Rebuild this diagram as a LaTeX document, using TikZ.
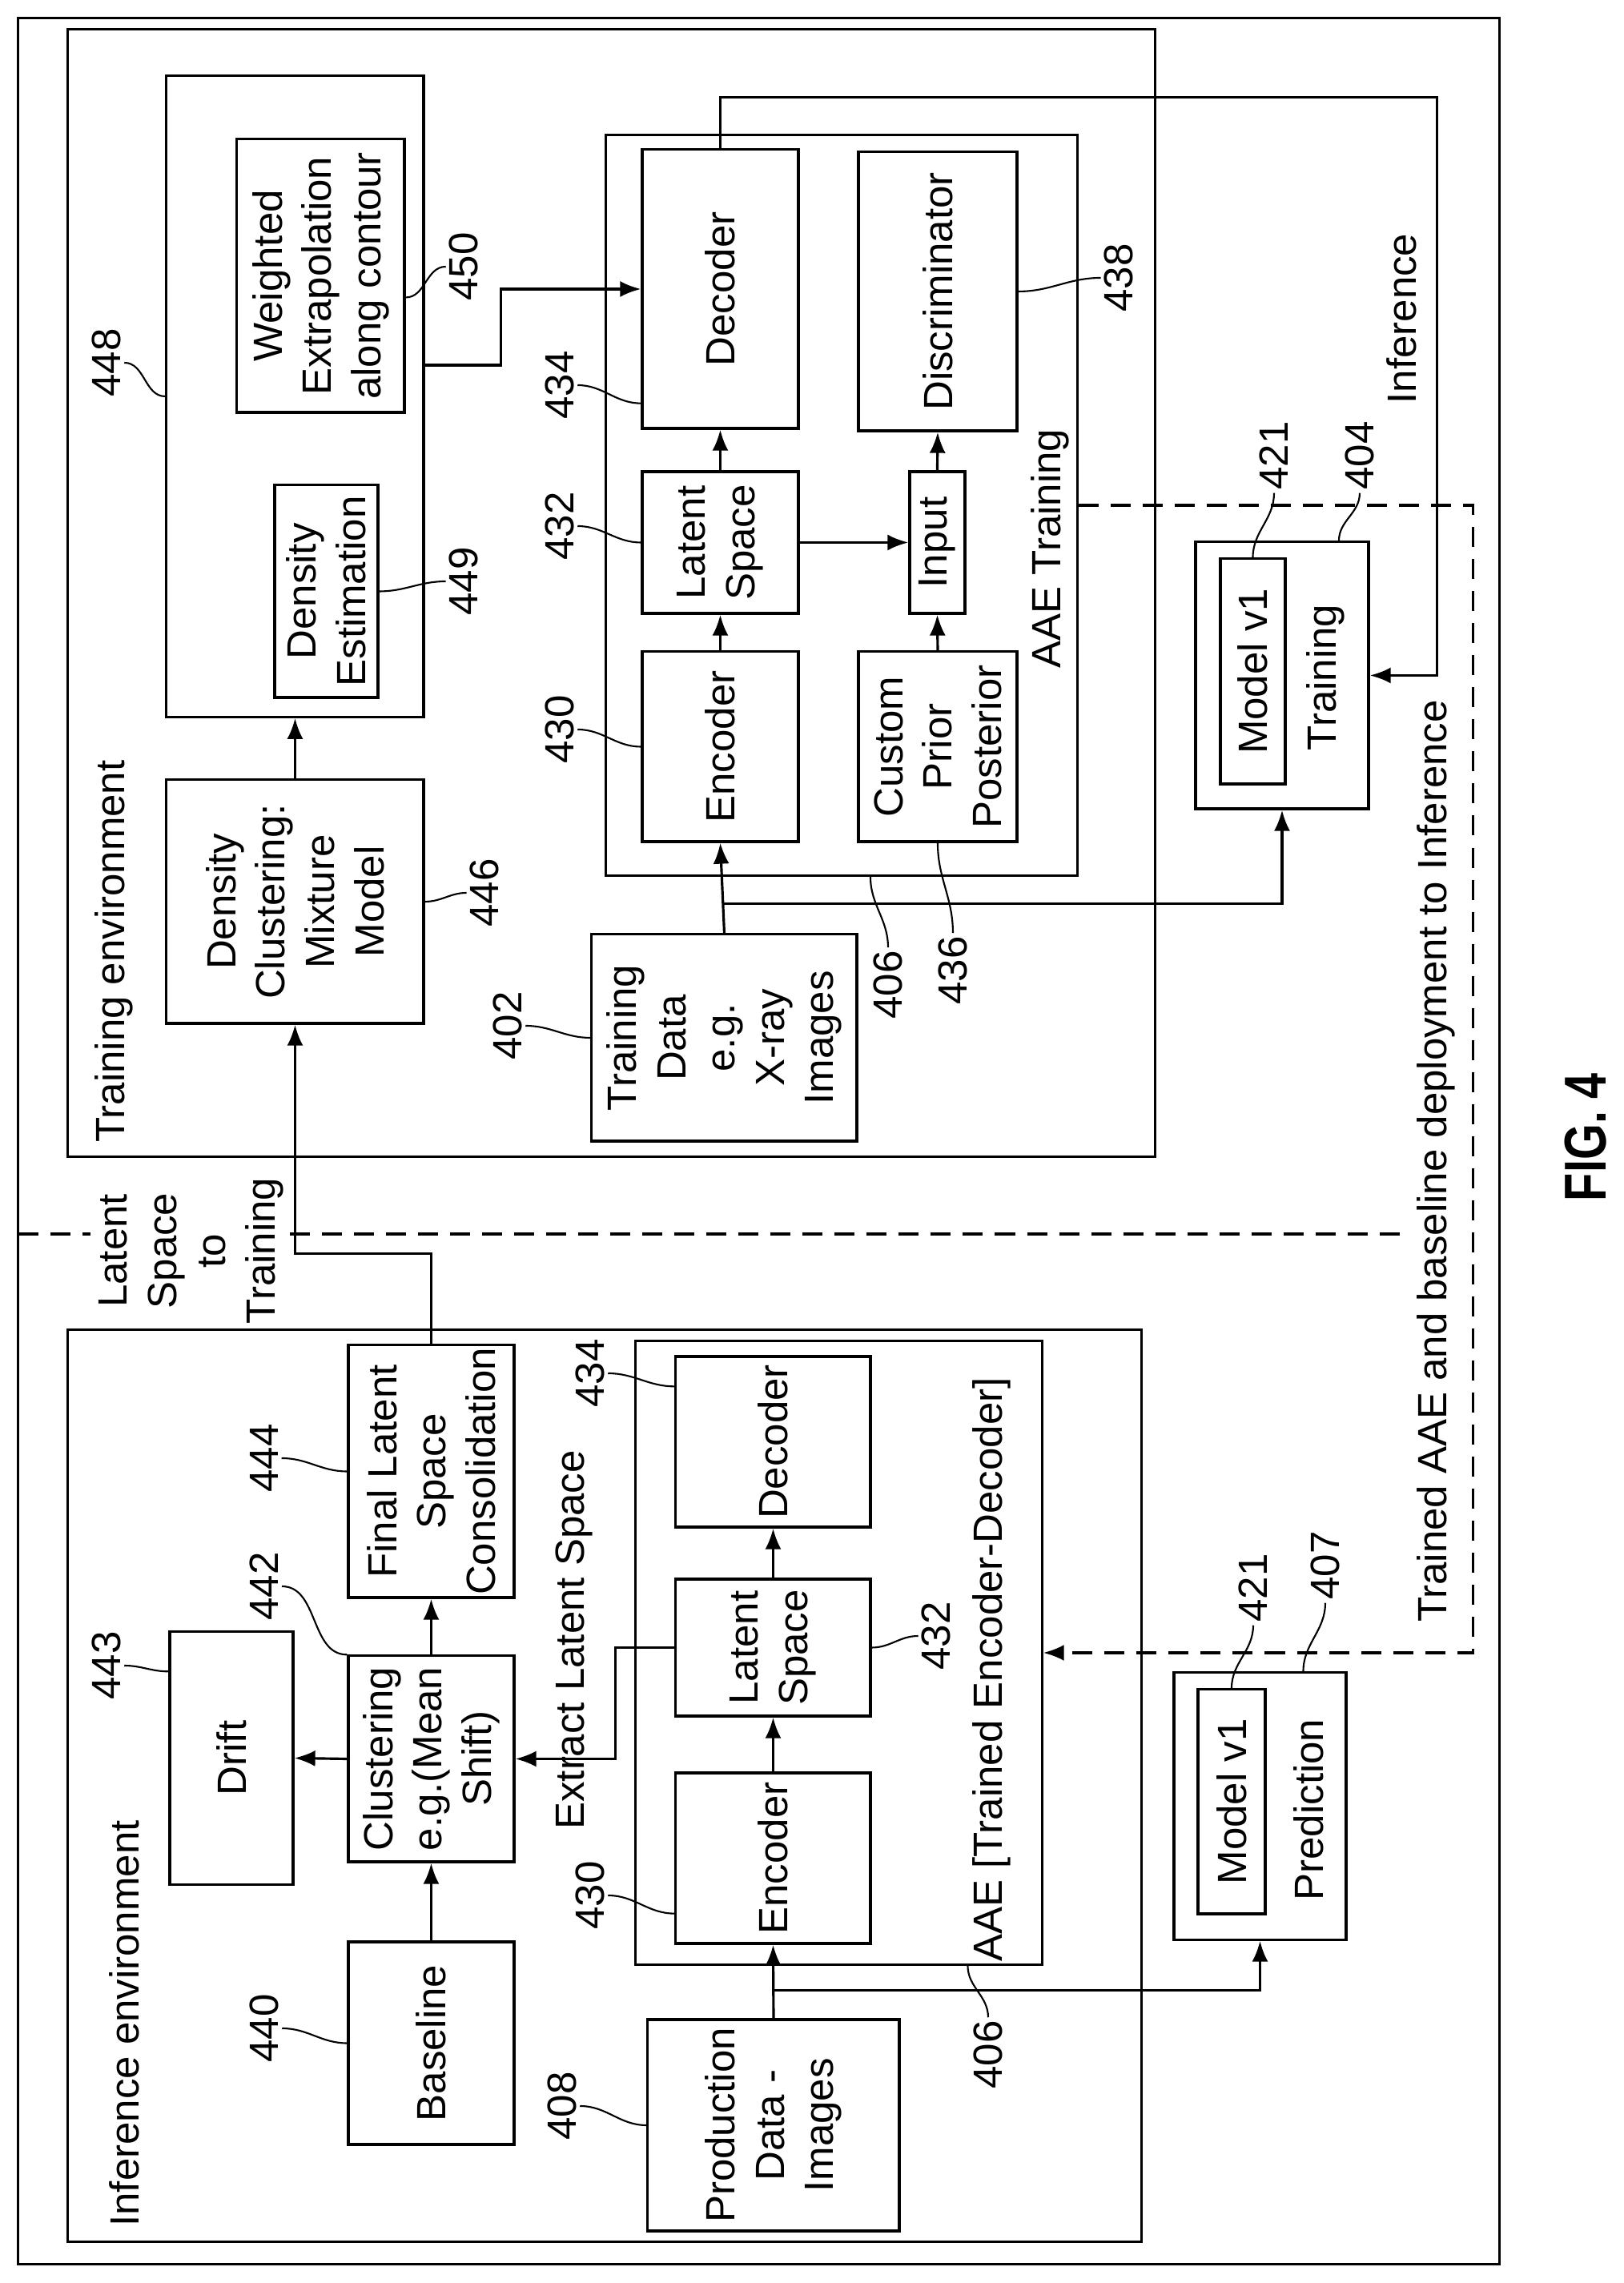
\documentclass[tikz,border=0pt]{standalone}
\usepackage{fontspec}
\setmainfont{Liberation Sans}
\usetikzlibrary{arrows.meta,positioning,calc}

\begin{document}
\begin{tikzpicture}[
  x=0.01cm, y=0.01cm, rotate=90, transform shape,
  every node/.style={font=\fontsize{14.5}{17.5}\selectfont},
  box/.style={draw, line width=0.9pt, inner sep=0pt, align=center},
  frame/.style={draw, line width=0.9pt, inner sep=0pt},
  tag/.style={inner sep=1pt, align=center},
  arrow/.style={-{Latex[length=2.6mm,width=2mm]}, line width=0.9pt},
  lead/.style={line width=0.6pt},
  dashline/.style={line width=0.9pt, dash pattern=on 2.5mm off 1.5mm}
]
\useasboundingbox (0,0) rectangle (2851,2028);

% frames
\node[frame, minimum width=28.04cm, minimum height=18.49cm] (outer) at (1426,1080.5) {};
\node[frame, minimum width=14.07cm, minimum height=13.57cm] (trainEnv) at (2110.5,1264.5) {};
\node[frame, minimum width=11.38cm, minimum height=13.40cm] (infEnv) at (621,1273) {};
\node[anchor=west] (trainEnvTxt) at (1412,1886) {Training environment};
\node[anchor=west] (infEnvTxt) at (58,1873) {Inference environment};

% ---------------- Training environment ----------------
\node[box, minimum width=8.00cm, minimum height=3.21cm] (b448) at (2356,1659.5) {};
\node[box, minimum width=3.41cm, minimum height=2.09cm] (wt) at (2506.5,1627.5) {Weighted\\Extrapolation\\along contour};
\node[box, minimum width=2.65cm, minimum height=1.29cm] (de) at (2112.5,1620.5) {Density\\Estimation};
\node[box, minimum width=3.04cm, minimum height=3.21cm] (b446) at (1725,1659.5) {Density\\Clustering:\\Mixture\\Model};

\node[frame, minimum width=9.24cm, minimum height=5.88cm] (aaeT) at (2220,977) {};
\node[box, minimum width=3.48cm, minimum height=1.95cm] (decT) at (2490,1128.5) {Decoder};
\node[box, minimum width=1.77cm, minimum height=1.95cm] (latT) at (2173.5,1128.5) {Latent\\Space};
\node[box, minimum width=2.37cm, minimum height=1.95cm] (encT) at (1918.5,1128.5) {Encoder};
\node[box, minimum width=3.48cm, minimum height=1.98cm] (disc) at (2487,857) {Discriminator};
\node[box, minimum width=1.77cm, minimum height=0.69cm] (inp) at (2173.5,857.5) {Input};
\node[box, minimum width=2.37cm, minimum height=1.98cm] (cust) at (1918.5,857) {Custom\\Prior\\Posterior};
\node (aaeTTxt) at (2166,717) {AAE Training};

\node[box, minimum width=2.58cm, minimum height=3.31cm] (td) at (1555,1123.5) {Training\\Data\\e.g.\\X-ray\\Images};

\node[box, minimum width=3.33cm, minimum height=2.16cm] (trainBox) at (2007.5,427) {};
\node[box, minimum width=2.81cm, minimum height=0.81cm] (mT) at (2012.5,463.5) {Model v1};
\node (trainTxt) at (2005,373) {Training};
\node (infTxt) at (2453,278) {Inference};

% labels, training side
\node[tag] (t448) at (2398,1895) {448};
\node[tag] (t450) at (2518,1449) {450};
\node[tag] (t449) at (2125,1449) {449};
\node[tag] (t446) at (1736,1423) {446};
\node[tag] (t434T) at (2370,1329) {434};
\node[tag] (t432T) at (2194,1329) {432};
\node[tag] (t430T) at (1940,1329) {430};
\node[tag] (t402) at (1570,1394) {402};
\node[tag] (t438) at (2504,631) {438};
\node[tag] (t406T) at (1621,919) {406};
\node[tag] (t436) at (1639,838) {436};
\node[tag] (t421T) at (2282,437) {421};
\node[tag] (t404) at (2282,330) {404};

% ---------------- Inference environment ----------------
\node[box, minimum width=3.15cm, minimum height=2.07cm] (finL) at (1013.5,1489.5) {Final Latent\\Space\\Consolidation};
\node[box, minimum width=2.57cm, minimum height=2.07cm] (clus) at (654.5,1489.5) {Clustering\\e.g.(Mean\\Shift)};
\node[box, minimum width=3.15cm, minimum height=1.54cm] (drift) at (655.5,1739) {Drift};
\node[box, minimum width=2.53cm, minimum height=2.07cm] (base) at (299.5,1489.5) {Baseline};

\node[frame, minimum width=7.78cm, minimum height=5.07cm] (aaeI) at (787,980.5) {};
\node[box, minimum width=2.13cm, minimum height=2.43cm] (decI) at (1050.5,1062.5) {Decoder};
\node[box, minimum width=1.71cm, minimum height=2.43cm] (latI) at (793.5,1062.5) {Latent\\Space};
\node[box, minimum width=2.13cm, minimum height=2.43cm] (encI) at (530.5,1062.5) {Encoder};
\node (aaeITxt) at (766,790) {AAE [Trained Encoder-Decoder]};
\node (extTxt) at (803,1311) {Extract Latent Space};

\node[box, minimum width=2.64cm, minimum height=3.14cm] (prod) at (197,1062) {Production\\Data -\\Images};

\node[box, minimum width=3.33cm, minimum height=2.15cm] (pred) at (595.5,454.5) {};
\node[box, minimum width=2.80cm, minimum height=0.84cm] (mI) at (601,490) {Model v1};
\node (predTxt) at (591,394) {Prediction};

% labels, inference side
\node[tag] (t444) at (1030,1698) {444};
\node[tag] (t442) at (870,1698) {442};
\node[tag] (t443) at (771,1895) {443};
\node[tag] (t440) at (318,1698) {440};
\node[tag] (t434I) at (1136,1291) {434};
\node[tag] (t430I) at (484,1291) {430};
\node[tag] (t408) at (221,1326) {408};
\node[tag] (t432I) at (808,859) {432};
\node[tag] (t406I) at (285,794) {406};
\node[tag] (t421I) at (868,463) {421};
\node[tag] (t407) at (896,373) {407};

% separator
\node[align=center, inner sep=0pt] (sepTxt) at (1289,1789) {Latent\\Space\\to\\Training};
\coordinate (sepTop) at (1310,2005);
\coordinate (sepGapA) at (1310,1915);
\coordinate (sepGapB) at (1310,1666);
\coordinate (sepEnd) at (1310,278);
\draw[dashline] (sepTop) -- (sepGapA);
\draw[dashline] (sepGapB) -- (sepEnd);
\node (deployTxt) at (1401,235) {Trained AAE and baseline deployment to Inference};

\node[font=\fontsize{21}{25}\selectfont\bfseries, xscale=0.78] (fig) at (1431,48) {FIG. 4};

% ---------------- connectors ----------------
\draw[arrow] (b446.east) -- (b448.west);
\draw[arrow] ($(b448.south)+(39,0)$) -- ++(0,-95) -| (decT.north);
\draw[arrow] (encT.east) -- (latT.west);
\draw[arrow] (latT.east) -- (decT.west);
\draw[arrow] (latT.south) -- (inp.north);
\draw[arrow] (cust.east) -- (inp.west);
\draw[arrow] (inp.east) -- (disc.west);
\draw[arrow] (td.east) -- (encT.west);
\draw[arrow] ($(td.east)+(37,0)$) |- (trainBox.west);
\draw[arrow] (decT.east) -- ++(64,0) |- ($(trainBox.south)+(0,-84)$) -- (trainBox.south);
\draw[arrow, dashline] (aaeT.south) -- ++(0,-493) -| (aaeI.south);

\draw[arrow] (finL.east) -- ++(113,0) |- (b446.west);
\draw[arrow] (base.east) -- (clus.west);
\draw[arrow] (clus.east) -- (finL.west);
\draw[arrow] (clus.north) -- (drift.south);
\draw[arrow] (latI.north) -- ++(0,74) -| (clus.south);
\draw[arrow] (prod.east) -- (encI.west);
\draw[arrow] ($(prod.east)+(35,0)$) |- (pred.west);
\draw[arrow] (encI.east) -- (latI.west);
\draw[arrow] (latI.east) -- (decI.west);

% leaders
\draw[lead] (t448.south) to[out=-90,in=90] (b448.north);
\draw[lead] ($(wt.south)+(-27,0)$) to[out=-90,in=90] (t450.north);
\draw[lead] (de.south) to[out=-90,in=90] (t449.north);
\draw[lead] (b446.south) to[out=-90,in=90] (t446.north);
\draw[lead] (t434T.south) to[out=-90,in=90] ($(decT.north west)+(33,0)$);
\draw[lead] (t432T.south) to[out=-90,in=90] (latT.north);
\draw[lead] (t430T.south) to[out=-90,in=90] (encT.north);
\draw[lead] (t402.south) to[out=-90,in=90] (td.north);
\draw[lead] (disc.south) to[out=-90,in=90] (t438.north);
\draw[lead] ($(aaeT.west)+(0,-36)$) to[out=180,in=0] (t406T.east);
\draw[lead] (cust.west) to[out=180,in=0] (t436.east);
\draw[lead] (mT.east) to[out=0,in=180] (t421T.west);
\draw[lead] ($(trainBox.east)+(0,-71)$) to[out=0,in=180] (t404.west);

\draw[lead] (t444.south) to[out=-90,in=90] (finL.north);
\draw[lead] (t442.south) to[out=-90,in=90] (clus.north east);
\draw[lead] (t443.south) to[out=-90,in=90] ($(drift.north east)+(-51,0)$);
\draw[lead] (t440.south) to[out=-90,in=90] (base.north);
\draw[lead] (t434I.south) to[out=-90,in=90] ($(decI.north east)+(-39,0)$);
\draw[lead] (t430I.south) to[out=-90,in=90] ($(encI.north west)+(39,0)$);
\draw[lead] (t408.south) to[out=-90,in=90] (prod.north);
\draw[lead] (latI.south) to[out=-90,in=90] (t432I.north);
\draw[lead] ($(aaeI.west)+(0,-161)$) to[out=180,in=0] (t406I.east);
\draw[lead] (mI.east) to[out=0,in=180] (t421I.west);
\draw[lead] ($(pred.east)+(0,-54)$) to[out=0,in=180] (t407.west);
\end{tikzpicture}
\end{document}
